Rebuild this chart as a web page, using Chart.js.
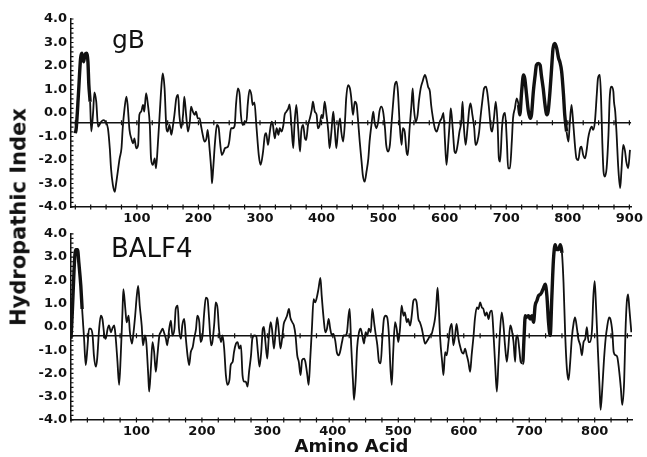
<!DOCTYPE html>
<html>
<head>
<meta charset="utf-8">
<script src="https://cdn.jsdelivr.net/npm/chart.js@4.4.1/dist/chart.umd.min.js"></script>
<style>
  body { margin: 0; background: #fff; width: 647px; height: 457px; overflow: hidden; position: relative; }
  canvas { position: absolute; left: 0; }
  #topChart { top: 0; }
  #botChart { top: 222px; }
  .lbl { position: absolute; color: #111; font-family: "DejaVu Sans", sans-serif; white-space: nowrap; line-height: 1; }
</style>
</head>
<body>
<canvas id="topChart" width="647" height="228"></canvas>
<canvas id="botChart" width="647" height="235"></canvas>
<div class="lbl" style="left:112px;top:27px;font-size:25px">gB</div>
<div class="lbl" style="left:111px;top:235px;font-size:26px">BALF4</div>
<div class="lbl" style="left:19px;top:217px;font-size:21px;font-weight:bold;transform:translate(-50%,-50%) rotate(-90deg)">Hydropathic Index</div>
<script>
// gB hydropathy profile (amino acid position / index)
var gbAA = [
  0, 1.5, 5, 8.6, 10.7, 13.4, 15.6, 17.8, 20.5, 22,
  24, 26, 29, 31, 34, 37, 39, 42, 46, 49,
  53, 56, 58, 61, 64, 66, 69, 72, 75, 77,
  80, 83, 85, 88, 91, 94, 96, 99, 102, 104,
  107, 110, 112, 115, 118, 121, 123, 126, 129, 131,
  134, 137, 140, 142, 145, 148, 150, 153, 156, 158,
  161, 164, 167, 169, 172, 175, 177, 180, 183, 186,
  188, 191, 194, 196, 199, 202, 204, 207, 210, 213,
  215, 218, 221, 222, 224, 227, 230, 233, 235, 238,
  241, 243, 248, 250, 253, 256, 259, 261, 264, 267,
  269, 272, 275, 278, 280, 283, 286, 288, 291, 294,
  298, 301, 305, 308, 310, 313, 316, 319, 321, 324,
  327, 330, 332, 335, 338, 340, 343, 346, 348, 351,
  354, 356, 359, 362, 365, 367, 370, 373, 375, 378,
  381, 384, 386, 389, 392, 394, 397, 400, 402, 405,
  408, 411, 413, 416, 419, 421, 424, 427, 430, 432,
  435, 438, 440, 443, 446, 448, 451, 454, 457, 459,
  462, 465, 467, 470, 473, 476, 478, 481, 484, 486,
  489, 492, 494, 497, 500, 503, 505, 508, 511, 513,
  516, 519, 522, 524, 527, 530, 532, 535, 538, 540,
  543, 546, 548, 550, 553, 556, 558, 561, 564, 568,
  570, 573, 576, 578, 581, 584, 587, 589, 592, 595,
  598, 600.5, 603, 606, 609, 610, 613, 616, 618, 621,
  624, 627, 629, 631, 634, 637, 640, 642, 645, 648,
  650, 653, 656, 658, 661, 664, 667, 669, 672, 675,
  677, 680, 683, 686, 688, 690, 693, 695, 698, 701,
  703, 706, 709, 711, 714, 717, 720, 722, 725, 728,
  730, 733, 736, 739, 741, 744, 747, 749, 752, 755,
  757, 760, 763, 766, 768, 771, 774, 776, 779, 782,
  785, 787, 790, 793, 795, 798, 801, 803, 806, 809,
  812, 814, 817, 820, 822, 825, 828, 831, 833, 836,
  839, 841, 844, 847, 849, 852, 854, 856, 858, 860,
  863, 866, 868, 871, 874, 875, 877, 879, 882, 885,
  887, 890, 893, 895, 898, 901
];
var gbHyd = [
  -0.86, -0.65, 0.77, 2.33, 2.54, 2.18, 2.47, 2.54, 2.18, 1.19,
  0.48, -0.79, 0.06, 0.88, 0.48, -0.58, -0.51, -0.37, -0.30, -0.37,
  -0.65, -1.50, -2.35, -3.06, -3.35, -3.06, -2.49, -1.93, -1.50, -0.65,
  0.20, 0.70, 0.34, -0.72, -1.08, -1.29, -1.08, -1.50, -1.36, -0.08,
  0.06, 0.34, 0.06, 0.84, 0.34, -0.51, -1.93, -2.21, -1.93, -2.35,
  -1.36, -0.08, 1.19, 1.69, 1.05, -0.65, -0.79, -0.51, -0.93, -0.65,
  -0.08, 0.62, 0.77, -0.08, -0.65, -0.08, 0.70, -0.08, -0.79, -0.37,
  0.27, 0.06, -0.08, 0.06, -0.23, -0.23, -0.51, -0.93, -1.22, -1.08,
  -0.72, -1.50, -2.49, -2.99, -2.35, -1.22, -0.51, -0.65, -1.22, -1.79,
  -1.64, -1.50, -1.43, -1.22, -0.65, -0.65, -0.51, 0.34, 1.05, 0.77,
  -0.08, -0.51, -0.37, -0.37, 0.34, 0.98, 0.77, 0.34, 0.45, -0.50,
  -1.79, -2.21, -1.64, -0.93, -0.86, -1.36, -0.79, -0.37, -0.51, -1.08,
  -0.65, -0.93, -0.65, -0.79, -0.51, -0.08, 0.06, 0.20, 0.37, -0.51,
  -1.50, -0.51, 0.34, -0.65, -1.64, -0.79, -0.51, -1.08, -1.15, -0.51,
  -0.23, 0.13, 0.48, 0.06, -0.08, -0.65, -0.51, -0.08, -0.23, 0.48,
  -0.08, -0.79, -1.50, -0.79, 0.06, -0.51, -1.50, -0.65, -0.23, -0.79,
  -1.22, -0.37, 0.62, 1.19, 1.05, 0.70, -0.08, 0.48, 0.34, -0.23,
  -1.22, -2.07, -2.64, -2.92, -2.49, -1.93, -1.22, -0.51, 0.06, -0.37,
  -0.65, -0.37, 0.06, 0.27, 0.06, -0.65, -1.36, -1.64, -1.36, -0.65,
  0.34, 1.19, 1.33, 0.91, -0.51, -1.36, -0.65, -0.79, -1.64, -1.79,
  -0.65, 0.34, 1.05, 0.20, -0.37, -0.08, 0.48, 1.05, 1.33, 1.62,
  1.48, 1.12, 0.91, 0.34, -0.23, -0.65, -0.79, -0.65, -0.37, -0.23,
  0.00, -1.22, -2.21, -1.22, -0.08, 0.20, -0.65, -1.64, -1.71, -1.36,
  -0.79, -0.37, 0.48, -0.51, -1.36, -0.65, 0.20, 0.41, -0.08, -0.65,
  -1.36, -1.22, -0.79, -0.23, 0.48, 1.05, 1.12, 0.91, 0.20, -0.65,
  -0.79, -0.23, 0.48, -0.51, -1.93, -2.07, -0.65, -0.15, 0.00, -1.22,
  -2.35, -2.35, -1.22, -0.23, 0.20, 0.62, 0.34, -0.08, 0.91, 1.62,
  1.48, 0.77, 0.06, -0.23, -0.08, 0.91, 1.62, 2.04, 2.11, 2.04,
  1.62, 1.05, 0.34, -0.08, 0.06, 0.91, 2.04, 2.75, 2.96, 2.75,
  2.33, 2.18, 1.76, 0.77, -0.08, -0.79, -1.22, -0.51, 0.34, -0.51,
  -1.50, -1.93, -2.00, -1.50, -1.43, -1.79, -1.93, -1.50, -1.08, -0.72,
  -0.58, -0.72, -0.37, 0.77, 1.48, 1.62, 0.62, -1.22, -2.49, -2.71,
  -2.35, -0.93, 0.62, 1.12, 0.91, 0.48, 0.06, -0.79, -2.35, -3.20,
  -2.49, -1.36, -1.64, -2.07, -2.35, -1.57
];

// BALF4 hydropathy profile
var balfAA = [
  0, 2, 4.7, 7, 10, 12, 15, 17, 20, 22.5,
  25, 27.6, 30, 33, 35, 38, 40, 43, 45.5, 48,
  51, 53, 56, 58, 61, 63, 66, 68, 71, 73.5,
  76, 78.6, 80, 83, 85, 88, 90, 93, 95, 98,
  100.5, 102.6, 105, 108, 110, 113, 115, 118, 119.4, 122,
  124.5, 127, 129.6, 132, 135, 137, 140, 142, 145, 147,
  150, 152.6, 155, 158, 160, 163, 165, 168, 170, 173,
  175.5, 178, 180.5, 183, 186, 188, 191, 193, 196, 198,
  201, 203.5, 206, 208.6, 211, 214, 216, 219, 221, 224,
  226, 229, 231.5, 234, 236.6, 239, 242, 244, 247, 249,
  252, 254.5, 257, 259.6, 262, 264.7, 267, 269.7, 272, 275,
  277, 280, 283, 285.5, 288, 290.6, 293, 294.7, 297, 299.8,
  302, 305, 307, 310, 312.5, 315, 317.6, 320, 323, 325,
  328, 330, 333, 335, 338, 340.5, 343, 345.6, 348, 350.7,
  353, 356, 358, 361, 363, 365.5, 368, 370.6, 373, 376,
  378, 381, 383, 386, 388.5, 391, 393.6, 396, 398.6, 401,
  404, 406, 409, 411, 414, 416.5, 419, 421.6, 424, 425.7,
  428, 430.8, 432.3, 435, 437, 440, 442.5, 445, 447.6, 450,
  452.7, 455, 458, 460.3, 463, 465, 468, 470.5, 473, 475.6,
  478, 480.7, 483, 486, 488, 490, 492, 495, 497.5, 500,
  502.6, 505, 508, 510, 513, 515, 518, 520.5, 523, 525.6,
  528, 530.7, 533, 536, 538, 541, 543, 546, 548.5, 551,
  553.6, 556, 558, 560, 562, 564, 567, 569, 571.5, 574,
  576.6, 579, 581.7, 584, 586.8, 589, 592, 594, 597, 599.5,
  602, 604.6, 607, 609.7, 612, 615, 617, 620, 622.5, 625,
  627.6, 630, 632.7, 635, 638, 640, 643, 645, 648, 650.5,
  653, 655.6, 658, 660.7, 663, 665.8, 668, 671, 673, 676,
  678.5, 680, 682, 684.7, 687, 690, 692, 694, 696, 699,
  701.5, 704, 706.6, 709, 711.7, 714, 717, 719, 722, 724.4,
  727, 729.5, 732, 734.6, 737, 739.7, 742, 745, 747.4, 750,
  752.4, 755, 757.5, 760, 762.6, 765, 768, 770, 773, 775,
  778, 780.5, 783, 785.6, 788, 790.7, 793, 796, 798, 800,
  802, 805, 807.5, 809, 811.6, 814, 816.7, 819, 822, 824,
  827, 829, 832, 834.5, 837, 840, 842, 845, 847, 849,
  851, 853, 856
];
var balfHyd = [
  -0.51, 0.62, 2.47, 3.32, 3.32, 2.75, 1.76, 0.77, -0.51, -1.64,
  -0.93, -0.08, -0.08, -0.37, -1.22, -1.71, -1.36, -0.08, 0.48, 0.34,
  -0.37, -0.51, -0.08, 0.06, -0.23, -0.08, 0.06, -0.37, -1.50, -2.49,
  -1.22, 0.62, 1.62, 0.77, 0.20, 0.48, -0.23, -0.72, -0.37, 0.48,
  1.33, 1.76, 0.91, 0.06, -0.79, -0.37, -0.65, -2.07, -2.78, -1.79,
  -0.65, -1.08, -1.93, -1.22, -0.37, -0.23, -0.08, -0.23, -0.51, -0.79,
  -0.08, 0.27, -0.37, -0.08, 0.77, 0.91, -0.08, -0.51, 0.06, 0.34,
  -0.51, -1.22, -1.64, -1.08, -0.86, -0.51, -0.08, 0.48, 0.20, -0.65,
  -0.37, 0.62, 1.26, 1.19, 0.34, -0.79, -0.65, 0.20, 1.05, 0.77,
  -0.08, -0.65, -0.37, -0.93, -2.07, -2.49, -2.28, -1.64, -1.50, -1.08,
  -0.72, -0.65, -0.93, -0.79, -2.07, -2.35, -2.35, -2.57, -1.93, -1.22,
  -0.51, -0.37, -0.40, -1.08, -1.71, -1.08, -0.08, 0.00, -0.65, -1.36,
  -0.51, 0.20, -0.08, -0.93, -0.23, 0.41, -0.23, -0.93, -0.37, 0.13,
  0.34, 0.48, 0.77, 0.41, 0.20, 0.06, -0.37, -1.22, -1.50, -2.07,
  -1.43, -1.36, -1.50, -2.07, -2.49, -1.36, -0.08, 1.19, 1.05, 1.33,
  1.62, 2.11, 1.33, 0.34, -0.23, -0.08, 0.34, -0.08, -0.37, -0.30,
  -0.65, -1.08, -1.22, -1.08, -0.65, -0.37, -0.37, -0.23, 0.48, 0.77,
  -0.79, -2.35, -3.13, -2.21, -0.93, -0.23, -0.08, -0.37, -0.72, -0.23,
  -0.37, -0.08, -0.23, 0.77, 0.20, -0.23, -0.79, -1.50, -1.57, -0.51,
  0.34, 0.48, 0.41, -0.51, -1.79, -2.49, -1.22, 0.20, -0.08, -0.65,
  -0.08, 0.91, 0.48, 0.62, 0.20, 0.34, 0.06, 0.48, 1.12, 1.19,
  1.05, 0.34, 0.20, -0.08, -0.37, -0.72, -0.65, -0.51, -0.37, -0.30,
  -0.01, 0.34, 0.91, 1.69, 0.77, -0.51, -1.50, -2.07, -1.08, -1.22,
  -0.65, -0.08, 0.13, -0.79, -0.37, 0.13, -0.51, -0.79, -1.08, -1.15,
  -0.93, -1.22, -1.50, -1.93, -1.22, -0.37, 0.34, 0.84, 0.77, 1.05,
  0.84, 0.77, 0.48, 0.62, 0.34, 0.62, 0.70, -0.08, -1.64, -2.78,
  -1.50, -0.08, 0.62, 0.06, -0.79, -1.50, -0.93, 0.06, -0.08, -0.65,
  -1.50, -0.51, -0.37, -0.93, -1.50, -1.57, -0.51, 0.48, 0.41, 0.48,
  0.34, 0.48, 0.20, 0.91, 1.12, 1.33, 1.40, 1.48, 1.69, 1.83,
  1.33, 0.20, -0.37, 1.33, 2.89, 3.53, 3.32, 3.32, 3.53, 3.18,
  1.90, -0.37, -1.79, -2.28, -1.50, -0.51, 0.20, 0.41, -0.08, -0.51,
  -0.79, -1.22, -0.65, -0.51, -0.01, -0.65, -0.65, -0.08, 1.33, 1.97,
  0.91, -1.08, -2.64, -3.56, -2.64, -1.50, -0.51, -0.01, 0.41, 0.34,
  -0.23, -1.08, -1.22, -1.29, -1.79, -2.64, -3.35, -2.35, -0.23, 1.05,
  1.40, 0.77, -0.23
];

var gbTicks = [100, 200, 300, 400, 500, 600, 700, 800, 900];
var balfTicks = [100, 200, 300, 400, 500, 600, 700, 800];
var yTicks = [-4, -3, -2, -1, 0, 1, 2, 3, 4];
var meanHyd = [-0.42, -0.38];   // average hydropathy line, gB then BALF4
var gbRange = [-7, 903];
var balfRange = [0, 857];

var INK = '#111';
var FONT = 'DejaVu Sans';

// small tick marks every 25 residues on the axis and the mean line, minor ticks on y
var tickMarks = {
  id: 'tickMarks',
  afterDatasetsDraw: function(chart, args, opts) {
    var c = chart.ctx, x = chart.scales.x, y = chart.scales.y;
    c.save();
    c.strokeStyle = INK;
    c.lineWidth = 1.2;
    c.beginPath();
    for (var a = 0; a <= x.max; a += 25) {
      var px = x.getPixelForValue(a);
      [y.bottom, y.getPixelForValue(opts.mean)].forEach(function(py) {
        c.moveTo(px, py - 2.5);
        c.lineTo(px, py + 2.5);
      });
    }
    for (var v = -4; v <= 4.001; v += 0.2) {
      var py = y.getPixelForValue(v);
      c.moveTo(x.left, py);
      c.lineTo(x.left + 2.5, py);
    }
    c.stroke();
    c.restore();
  }
};

function inRanges(a, b, ranges) {
  return ranges.some(function(r) { return a >= r[0] && b <= r[1]; });
}

function makeChart(id, aa, hyd, xTicks, mean, range, thick, pad, xHeight, title) {
  var pts = aa.map(function(a, i) { return { x: a, y: hyd[i] }; });
  return new Chart(document.getElementById(id), {
    type: 'line',
    data: {
      datasets: [{
        data: pts,
        borderColor: INK,
        borderWidth: 1.8,
        pointRadius: 0,
        cubicInterpolationMode: 'monotone',
        segment: {
          borderWidth: function(ctx) {
            return inRanges(ctx.p0.parsed.x, ctx.p1.parsed.x, thick) ? 3.4 : 1.8;
          }
        }
      }, {
        data: [{ x: range[0], y: mean }, { x: range[1], y: mean }],
        borderColor: INK,
        borderWidth: 1.5,
        pointRadius: 0
      }]
    },
    options: {
      responsive: false,
      animation: false,
      events: [],
      layout: { padding: pad },
      plugins: {
        legend: { display: false },
        tooltip: { enabled: false },
        tickMarks: { mean: mean }
      },
      scales: {
        x: {
          type: 'linear',
          min: range[0],
          max: range[1],
          afterBuildTicks: function(s) { s.ticks = xTicks.map(function(v) { return { value: v }; }); },
          afterFit: function(s) { s.height = xHeight; },
          grid: { display: false, drawTicks: false },
          border: { color: INK, width: 1.5 },
          ticks: {
            color: INK, autoSkip: false, maxRotation: 0, padding: 4,
            font: { family: FONT, weight: 'bold', size: 13 }
          },
          title: title
        },
        y: {
          min: -4,
          max: 4,
          afterBuildTicks: function(s) { s.ticks = yTicks.map(function(v) { return { value: v }; }); },
          afterFit: function(s) { s.width = 50; },
          grid: { display: false, drawTicks: false },
          border: { color: INK, width: 1.5 },
          ticks: {
            color: INK, padding: 4,
            font: { family: FONT, weight: 'bold', size: 13 },
            callback: function(v) { return v.toFixed(1); }
          }
        }
      }
    },
    plugins: [tickMarks]
  });
}

makeChart('topChart', gbAA, gbHyd, gbTicks, meanHyd[0], gbRange,
  [[0, 24], [720, 800]],
  { left: 21, right: 15, top: 19, bottom: 0 }, 21, { display: false });

makeChart('botChart', balfAA, balfHyd, balfTicks, meanHyd[1], balfRange,
  [[0, 17], [690, 752]],
  { left: 21, right: 15, top: 10, bottom: 0 }, 37,
  { display: true, text: 'Amino Acid', color: INK, padding: { top: 0, bottom: 0 },
    font: { family: FONT, weight: 'bold', size: 18, lineHeight: 1.1 } });
</script>
</body>
</html>
